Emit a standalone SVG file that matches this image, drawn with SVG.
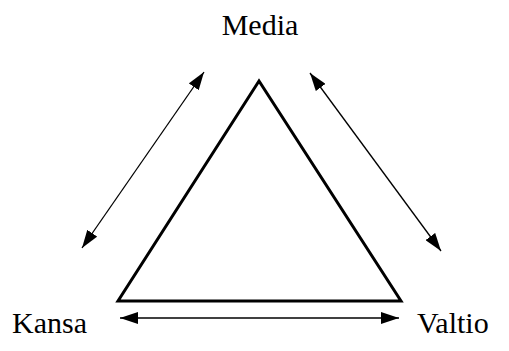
<svg xmlns="http://www.w3.org/2000/svg" width="509" height="351" viewBox="0 0 509 351">
<defs>
<marker id="ah" viewBox="0 0 18 12" refX="18" refY="6" markerWidth="18" markerHeight="12" markerUnits="userSpaceOnUse" orient="auto-start-reverse">
<path d="M0,0 L18,6 L0,12 Z" fill="#000"/>
</marker>
<style>
.conn{stroke:#000;stroke-width:1.3;fill:none;marker-start:url(#ah);marker-end:url(#ah)}
</style>
</defs>
<rect width="509" height="351" fill="#fff"/>
<g id="triangle">
<polygon points="259,81 118,301 401,301" fill="none" stroke="#000" stroke-width="3" stroke-linejoin="miter"/>
</g>
<g font-family="'Liberation Serif', 'DejaVu Serif', 'Times New Roman', serif" font-size="30" fill="#000">
<g id="media"><text x="260" y="35" text-anchor="middle">Media</text></g>
<g id="kansa"><text x="12" y="333">Kansa</text></g>
<g id="valtio"><text x="417" y="333">Valtio</text></g>
</g>
<g id="connectors">
<line class="conn" x1="204" y1="72" x2="82" y2="248"/>
<line class="conn" x1="310" y1="73" x2="441" y2="251"/>
<line class="conn" x1="120" y1="318" x2="399" y2="318" style="stroke-width:1.6"/>
</g>
</svg>
